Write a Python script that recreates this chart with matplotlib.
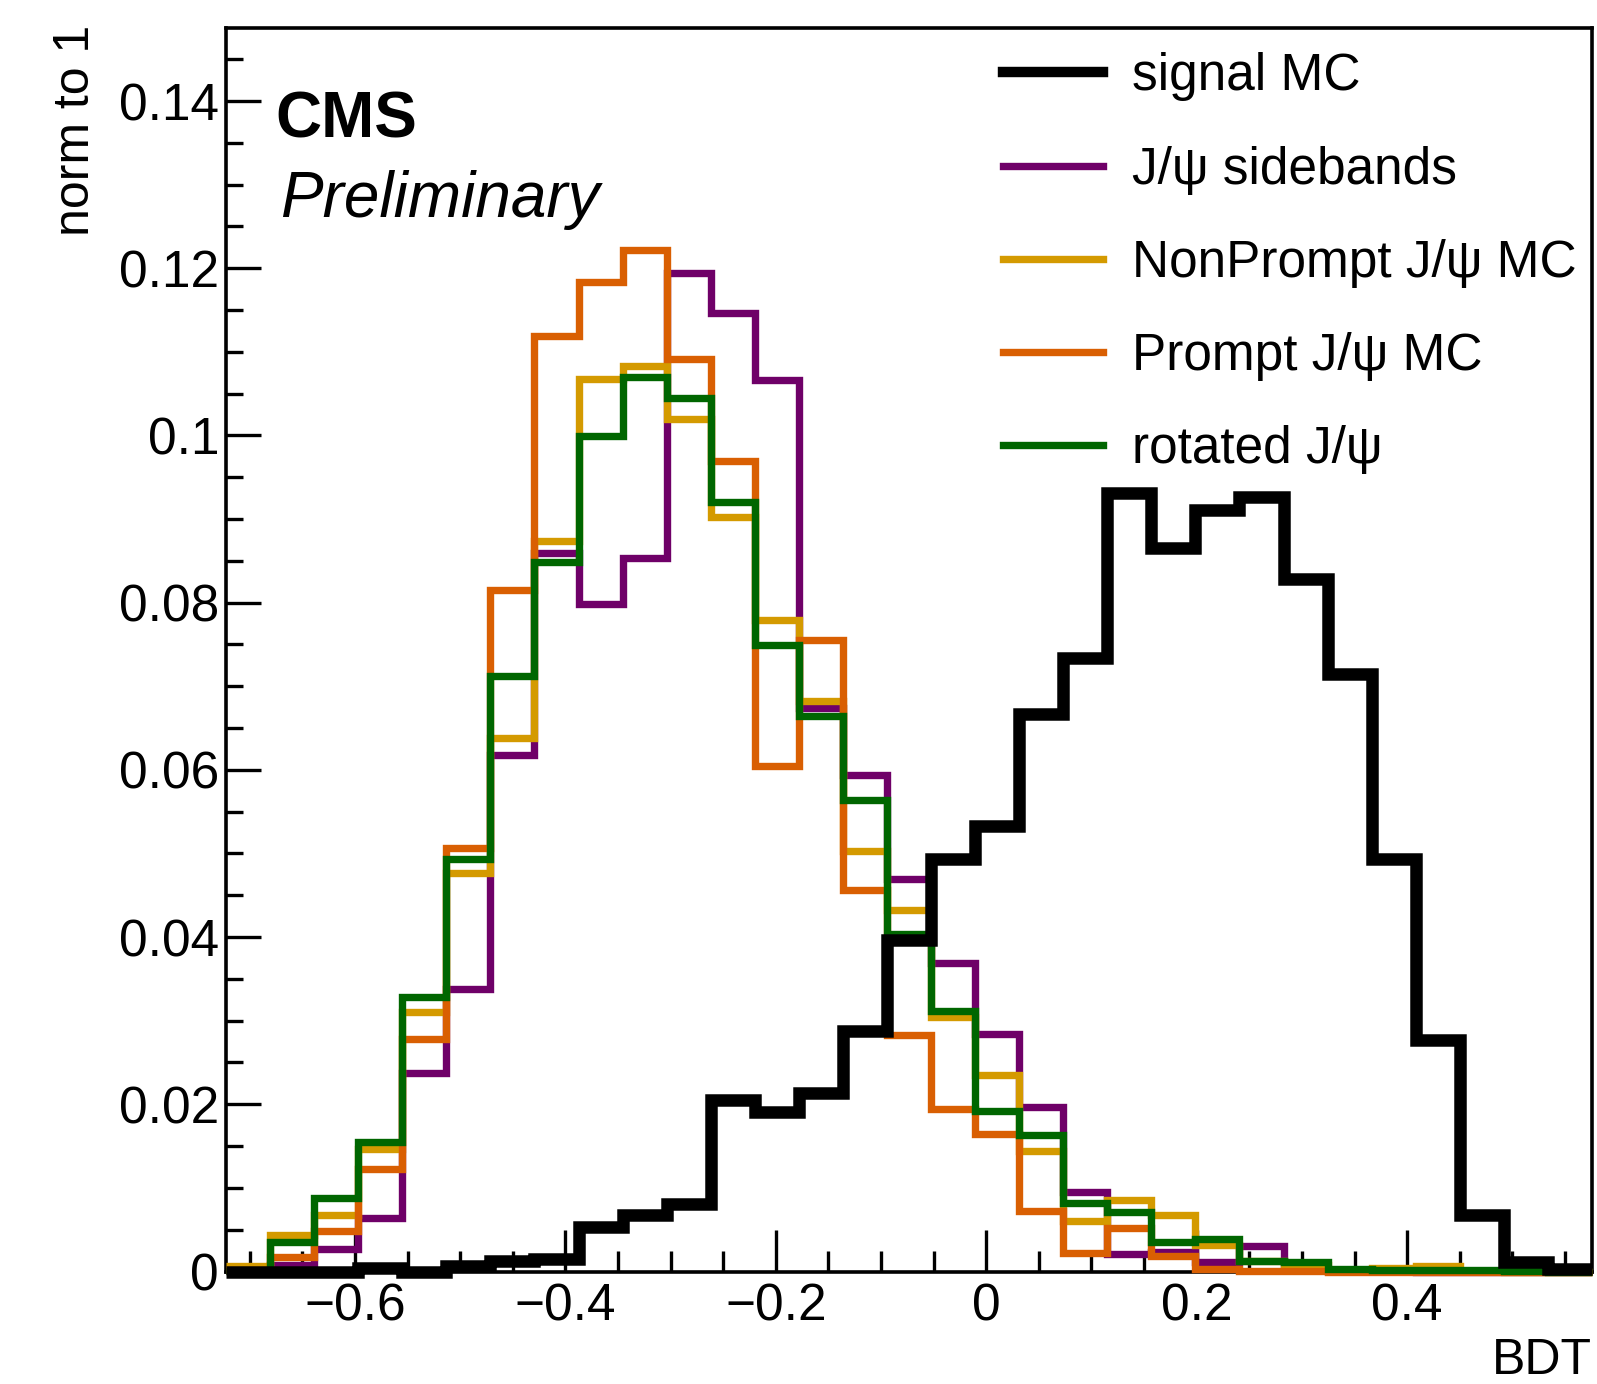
import numpy as np
import matplotlib
matplotlib.use("Agg")
import matplotlib.pyplot as plt
from matplotlib.ticker import MultipleLocator, FuncFormatter

plt.rcParams['font.family'] = ['Liberation Sans', 'DejaVu Sans']

# BDT binning: 31 equal bins
x_min, x_max, n_bins = -0.7226, 0.5757, 31
edges = np.linspace(x_min, x_max, n_bins + 1)

# normalised BDT distributions (sum to 1), one value per bin
signal_mc = [0.0, 0.0, 0.0, 0.0004, 0.0, 0.0006, 0.0012, 0.0015, 0.0053, 0.0068,
             0.0081, 0.0205, 0.0191, 0.0214, 0.0288, 0.0396, 0.0494, 0.0533, 0.0667, 0.0734,
             0.0931, 0.0866, 0.0911, 0.0926, 0.0828, 0.0715, 0.0493, 0.0277, 0.0068, 0.0011,
             0.0003]
jpsi_sidebands = [0.0001, 0.0008, 0.0027, 0.0064, 0.0238, 0.0338, 0.0618, 0.0859, 0.0799, 0.0854,
                  0.1194, 0.1146, 0.1066, 0.0674, 0.0594, 0.0469, 0.0369, 0.0284, 0.0197, 0.0095,
                  0.0021, 0.0023, 0.0011, 0.0031, 0.0003, 0.0001, 0.0001, 0.0, 0.0, 0.0,
                  0.0]
nonprompt_mc = [0.0006, 0.0044, 0.0068, 0.0147, 0.0310, 0.0477, 0.0638, 0.0874, 0.1067, 0.1083,
                0.1020, 0.0903, 0.0779, 0.0682, 0.0503, 0.0433, 0.0305, 0.0235, 0.0144, 0.0061,
                0.0086, 0.0068, 0.0032, 0.0012, 0.0008, 0.0002, 0.0004, 0.0006, 0.0001, 0.0,
                0.0]
prompt_mc = [0.0002, 0.0017, 0.0049, 0.0123, 0.0278, 0.0507, 0.0815, 0.1119, 0.1184, 0.1222,
             0.1092, 0.0969, 0.0605, 0.0755, 0.0456, 0.0283, 0.0194, 0.0165, 0.0072, 0.0022,
             0.0052, 0.0018, 0.0003, 0.0001, 0.0001, 0.0, 0.0, 0.0, 0.0, 0.0,
             0.0]
rotated_jpsi = [0.0001, 0.0035, 0.0088, 0.0155, 0.0328, 0.0493, 0.0712, 0.0849, 0.0999, 0.1070,
                0.1045, 0.0921, 0.0749, 0.0664, 0.0564, 0.0404, 0.0312, 0.0192, 0.0163, 0.0082,
                0.0071, 0.0035, 0.0039, 0.0013, 0.0011, 0.0003, 0.0002, 0.0002, 0.0002, 0.0001,
                0.0]

labels = ['signal MC', 'J/\u03c8 sidebands', 'NonPrompt J/\u03c8 MC',
          'Prompt J/\u03c8 MC', 'rotated J/\u03c8']
colors = ['black', '#6f0068', '#d49a00', '#d95f02', '#006600']
widths = [9.0, 5.3, 5.3, 5.3, 5.3]
zorders = [10, 3, 4, 5, 6]

W, H = 1597, 1384
fig = plt.figure(figsize=(W / 100, H / 100), dpi=100)
ax = fig.add_axes([226 / W, 1 - 1271.5 / H, (1592 - 226) / W, (1271.5 - 27.5) / H])

series = [signal_mc, jpsi_sidebands, nonprompt_mc, prompt_mc, rotated_jpsi]
handles = []
for vals, lab, col, lw, zo in zip(series, labels, colors, widths, zorders):
    h = ax.stairs(vals, edges, color=col, linewidth=lw, label=lab,
                  zorder=zo, clip_on=False, baseline=None)
    handles.append(h)

ax.set_xlim(x_min, x_max)
ax.set_ylim(0, 0.1488)

# axis ticks, ROOT style (inward, left/bottom only)
ax.xaxis.set_major_locator(MultipleLocator(0.2))
ax.xaxis.set_minor_locator(MultipleLocator(0.05))
ax.yaxis.set_major_locator(MultipleLocator(0.02))
ax.yaxis.set_minor_locator(MultipleLocator(0.005))


def fmt(v, pos):
    v = round(v, 4)
    if v == 0:
        return '0'
    return ('%g' % v).replace('-', '\u2212')


ax.xaxis.set_major_formatter(FuncFormatter(fmt))
ax.yaxis.set_major_formatter(FuncFormatter(fmt))
ax.tick_params(axis='both', which='both', direction='in', width=2.4,
               labelsize=37, top=False, right=False)
ax.tick_params(axis='y', which='major', length=25, pad=5)
ax.tick_params(axis='y', which='minor', length=12.5)
ax.tick_params(axis='x', which='major', length=30, pad=8)
ax.tick_params(axis='x', which='minor', length=15)
for sp in ax.spines.values():
    sp.set_linewidth(2.6)

# axis titles
fig.text(76 / W, 1 - 25 / H, 'norm to 1', rotation=90, ha='center', va='top', fontsize=36)
fig.text(1592 / W, 0.5 / H, 'BDT', ha='right', va='bottom', fontsize=36)

# CMS label
fig.text(275 / W, 1 - 137 / H, 'CMS', fontsize=46, fontweight='bold', va='baseline')
fig.text(280 / W, 1 - 217 / H, 'Preliminary', fontsize=46, fontstyle='italic', va='baseline')

leg = ax.legend(handles=handles, loc='upper left', bbox_to_anchor=(0.569, 0.980),
                frameon=False, fontsize=37, handlelength=1.95, handletextpad=0.55,
                labelspacing=0.86, borderpad=0, borderaxespad=0)
leg.legend_handles[0].set_linewidth(7.5)

fig.savefig('out.png', dpi=100)
